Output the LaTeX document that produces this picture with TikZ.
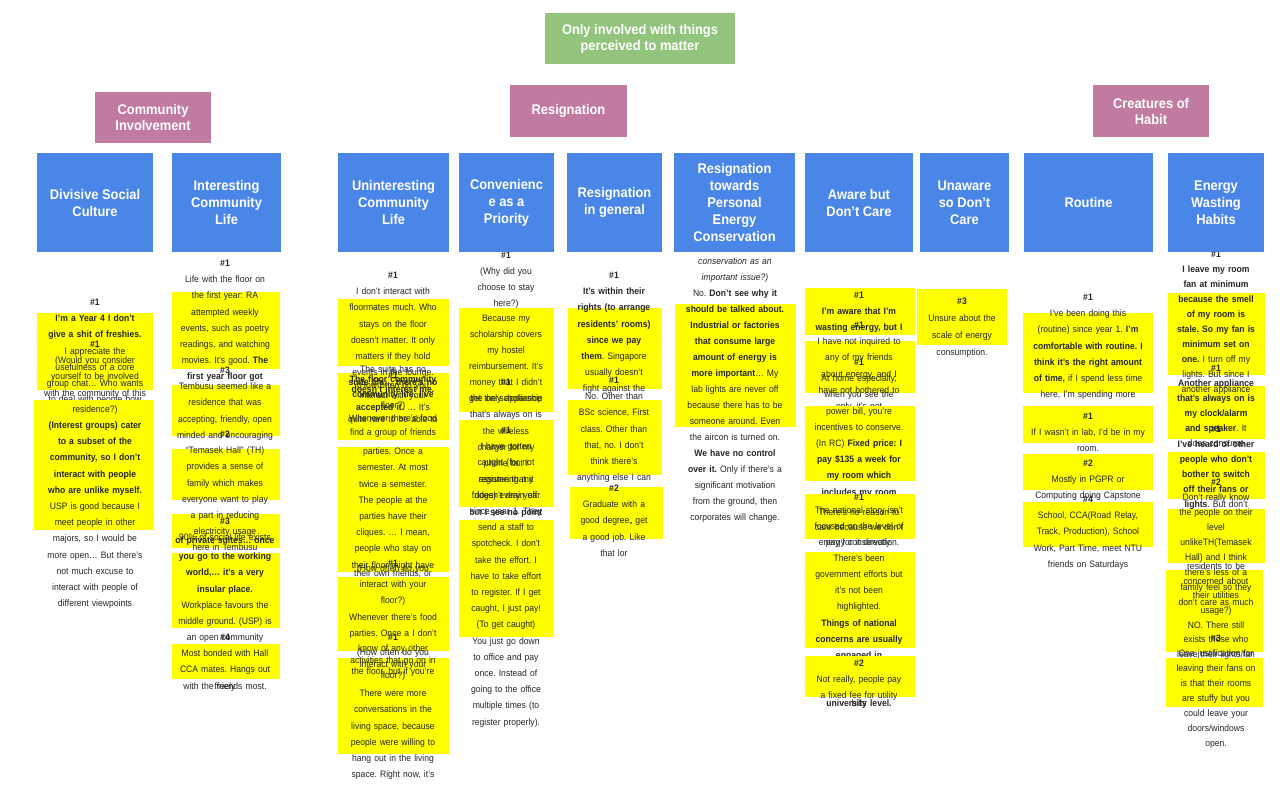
\documentclass[tikz,border=0pt]{standalone}
\usepackage{fontspec}
\setmainfont{Liberation Sans}[FakeStretch=0.92]
\usepackage{tikz}
\usepackage{xcolor}
\definecolor{mapBlue}  {HTML}{4A86E8}
\definecolor{mapPink}  {HTML}{C27BA0}
\definecolor{mapGreen} {HTML}{93C47D}
\definecolor{mapYellow}{HTML}{FFFF00}
\definecolor{mapInk}   {HTML}{262626}
\newcommand\qn[1]{\textbf{\##1}}
\frenchspacing
\tikzset{
  theme/.style = {rectangle, fill=mapGreen, text=white, align=center,
                  inner sep=0pt, font=\fontsize{10.5}{12}\selectfont\bfseries},
  group/.style = {rectangle, fill=mapPink, text=white, align=center,
                  inner sep=0pt, font=\fontsize{10.5}{12}\selectfont\bfseries},
  topic/.style = {rectangle, fill=mapBlue, text=white, align=center,
                  inner sep=0pt, minimum height=74.25pt,
                  font=\fontsize{10.5}{12.75}\selectfont\bfseries},
  sticky/.style= {fill=mapYellow},
  note/.style  = {anchor=base, text width=150pt, align=center, inner sep=0pt,
                  text=mapInk, yshift=-2.55pt, font=\fontsize{7}{12.15}\selectfont},
  lead/.style  = {font=\fontsize{7}{#1}\selectfont},
}

\begin{document}
\begin{tikzpicture}[x=0.75pt, y=-0.75pt]

\fill[white] (0,0) rectangle (1280,800);
\useasboundingbox (0,0) rectangle (1280,800);

% Divisive Social Culture
\fill[sticky] (37,313) rectangle (153,390);
\node[note] (c1a) at (95,302) {\qn1\\\textbf{I’m a Year 4 I don’t}\\\textbf{give a shit of freshies.}\\I appreciate the\\usefulness of a core\\group chat… Who wants\\to deal with people how};
\fill[sticky] (34,400) rectangle (154,530);
\node[note] (c1b) at (95,344) {\qn1\\(Would you consider\\yourself to be involved\\with the community of this\\residence?)\\\textbf{(Interest groups) cater}\\\textbf{to a subset of the}\\\textbf{community, so I don’t}\\\textbf{interact with people}\\\textbf{who are unlike myself.}\\USP is good because I\\meet people in other\\majors, so I would be\\more open… But there’s\\not much excuse to\\interact with people of\\different viewpoints};

% Interesting Community Life
\fill[sticky] (172,292) rectangle (280,369);
\node[note] (c2a) at (225,263) {\qn1\\Life with the floor on\\the first year: RA\\attempted weekly\\events, such as poetry\\readings, and watching\\movies. It’s good. \textbf{The}\\\textbf{first year floor got}};
\fill[sticky] (172,385) rectangle (280,436);
\node[note] (c2b) at (225,370) {\qn3\\Tembusu seemed like a\\residence that was\\accepting, friendly, open\\minded and encouraging};
\fill[sticky] (172,449) rectangle (280,500);
\fill[sticky] (172,514) rectangle (280,548);
\node[note] (c2c) at (225,434) {\qn2\\“Temasek Hall” (TH)\\provides a sense of\\family which makes\\everyone want to play\\a part in reducing\\electricity usage\\here in Tembusu};
\node[note] (c2d) at (225,521) {\qn3\\90\% of social life exists};
\fill[sticky] (172,553) rectangle (280,628);
\node[note] (c2e) at (225,540) {\textbf{of private suites… once}\\\textbf{you go to the working}\\\textbf{world,… it’s a very}\\\textbf{insular place.}\\Workplace favours the\\middle ground. (USP) is\\an open community\\~\\~\\freely};
\fill[sticky] (172,644) rectangle (280,679);
\node[note] (c2f) at (225,637) {\qn4\\Most bonded with Hall\\CCA mates. Hangs out\\with the friends most.};

% Uninteresting Community Life
\fill[sticky] (338,299) rectangle (449,366);
\fill[sticky] (338,373) rectangle (449,440);
\fill[sticky] (338,447) rectangle (449,572);
\fill[sticky] (338,577) rectangle (449,651);
\fill[sticky] (338,658) rectangle (449,754);
\node[note] (c3a) at (393,275) {\qn1\\I don’t interact with\\floormates much. Who\\stays on the floor\\doesn’t matter. It only\\matters if they hold\\events in the lounge.};
\node[note, lead=9.45pt] (c3b) at (393,369) {The suite has no\\\textbf{suite life… there’s no}\\\textbf{community life. I’ve}\\\textbf{accepted it.} … It’s\\quite rare to be able to\\find a group of friends};
\node[note, lead=7.5pt] (c3c) at (393,379) {\textbf{The floor community}\\\textbf{doesn’t interest me.}};
\node[note] (c3d) at (393,375) {\qn1\\[-4.7pt](How often do you\\[-4.7pt]interact with your\\[-4.7pt]floor?)\\[-2pt]Whenever there’s food\\[12.5pt]parties. Once a\\semester. At most\\twice a semester.\\The people at the\\parties have their\\cliques. … I mean,\\people who stay on\\their floor might have\\[-6pt]their own friends, or};
\node[note] (c3e) at (393,563) {\qn1\\[-8.4pt](How often do you\\interact with your\\floor?)\\Whenever there’s food\\parties. Once a I don’t\\[-1pt]know of any other\\[-3.15pt]activities that go on in\\[-3.9pt]the floor, but if you’re};
\node[note] (c3f) at (393,637) {\qn1\\[-0.9pt](How often do you\\[-3pt]interact with your\\[-3.9pt]floor?)\\[1.4pt]There were more\\conversations in the\\living space, because\\people were willing to\\hang out in the living\\space. Right now, it’s};

% Convenience as a Priority
\fill[sticky] (459,308) rectangle (554,412);
\fill[sticky] (459,420) rectangle (554,507);
\fill[sticky] (459,520) rectangle (554,637);
\node[note, lead=11.9pt] (c4a) at (506,255) {\qn1\\(Why did you\\choose to stay\\here?)\\Because my\\scholarship covers\\my hostel\\reimbursement. It’s\\money that I didn’t\\get the scholarship};
\node[note] (c4b) at (506,382) {\qn1\\the only appliance\\that’s always on is\\the wireless\\charger for my\\phone but I\\assume that it\\doesn’t drain off\\but \textbf{I see no point}};
\node[note] (c4c) at (506,430) {\qn1\\I have gotten\\caught (for not\\registering my\\fridge) every year\\since year 1. They\\send a staff to\\spotcheck. I don’t\\take the effort. I\\have to take effort\\to register. If I get\\caught, I just pay!\\(To get caught)\\You just go down\\to office and pay\\once. Instead of\\going to the office\\multiple times (to\\register properly).};

% Resignation in general
\fill[sticky] (568,308) rectangle (662,389);
\fill[sticky] (568,400) rectangle (662,475);
\fill[sticky] (570,487) rectangle (663,539);
\node[note] (c5a) at (614,275) {\qn1\\\textbf{It’s within their}\\\textbf{rights (to arrange}\\\textbf{residents’ rooms)}\\\textbf{since we pay}\\\textbf{them}. Singapore\\usually doesn’t\\fight against the};
\node[note] (c5b) at (614,380) {\qn1\\No. Other than\\BSc science, First\\class. Other than\\that, no. I don’t\\think there’s\\anything else I can};
\node[note] (c5c) at (614,488) {\qn2\\Graduate with a\\good degree,, get\\a good job. Like\\that lor};

% Resignation towards Personal Energy Conservation
\fill[sticky] (675,304) rectangle (796,427);
\node[note, lead=12pt] (c6a) at (735,261) {\textit{conservation as an}\\\textit{important issue?)}\\No. \textbf{Don’t see why it}\\\textbf{should be talked about.}\\\textbf{Industrial or factories}\\\textbf{that consume large}\\\textbf{amount of energy is}\\\textbf{more important}… My\\lab lights are never off\\because there has to be\\someone around. Even\\the aircon is turned on.\\\textbf{We have no control}\\\textbf{over it.} Only if there’s a\\significant motivation\\from the ground, then\\corporates will change.};

% Aware but Don't Care
\fill[sticky] (805,288) rectangle (915,335);
\node[note] (c7a) at (859,295) {\qn1\\\textbf{I’m aware that I’m}\\\textbf{wasting energy, but I}};
\fill[sticky] (805,341) rectangle (915,393);
\node[note] (c7b) at (859,325) {\qn1\\I have not inquired to\\any of my friends\\about energy, and I\\have not bothered to\\only, it’s not};
\fill[sticky] (805,406) rectangle (915,481);
\node[note] (c7c) at (859,362) {\qn1\\At home especially,\\when you see the\\power bill, you’re\\incentives to conserve.\\(In RC) \textbf{Fixed price: I}\\\textbf{pay \$135 a week for}\\\textbf{my room which}\\\textbf{includes my room}};
\fill[sticky] (805,494) rectangle (915,539);
\node[note, lead=11.25pt] (c7d) at (859,497) {\qn1\\There’s no reason to\\care because we don’t\\pay for it directly.};
\fill[sticky] (805,552) rectangle (915,648);
\node[note, lead=12.07pt] (c7e) at (859,510) {The national story isn’t\\focused on the level of\\energy conservation.\\There’s been\\government efforts but\\it’s not been\\highlighted.\\\textbf{Things of national}\\\textbf{concerns are usually}\\\textbf{engaged in}\\~\\~\\\textbf{university level.}};
\fill[sticky] (805,656) rectangle (915,697);
\node[note] (c7f) at (859,663) {\qn2\\Not really, people pay\\a fixed fee for utility\\[-6.5pt]bills};

% Unaware so Don't Care
\fill[sticky] (917,289) rectangle (1007,345);
\node[note, lead=12.7pt] (c8a) at (962,301) {\qn3\\Unsure about the\\scale of energy\\consumption.};

% Routine
\fill[sticky] (1023,313) rectangle (1153,393);
\node[note] (c9a) at (1088,297) {\qn1\\I’ve been doing this\\(routine) since year 1. \textbf{I’m}\\\textbf{comfortable with routine. I}\\\textbf{think it’s the right amount}\\\textbf{of time,} if I spend less time\\here, I’m spending more};
\fill[sticky] (1023,406) rectangle (1153,443);
\node[note] (c9b) at (1088,416) {\qn1\\If I wasn’t in lab, I’d be in my\\room.};
\fill[sticky] (1023,454) rectangle (1153,490);
\node[note] (c9c) at (1088,463) {\qn2\\Mostly in PGPR or\\Computing doing Capstone};
\fill[sticky] (1023,502) rectangle (1153,547);
\node[note] (c9d) at (1088,499) {\qn4\\School, CCA(Road Relay,\\Track, Production), School\\Work, Part Time, meet NTU\\friends on Saturdays};

% Energy Wasting Habits
\fill[sticky] (1168,293) rectangle (1265,375);
\fill[sticky] (1168,386) rectangle (1265,439);
\fill[sticky] (1168,452) rectangle (1265,499);
\fill[sticky] (1168,509) rectangle (1265,563);
\fill[sticky] (1166,570) rectangle (1263,652);
\fill[sticky] (1166,658) rectangle (1263,707);
\node[note, lead=11.25pt] (c10a) at (1216,254) {\qn1\\\textbf{I leave my room}\\\textbf{fan at minimum}\\\textbf{because the smell}\\\textbf{of my room is}\\\textbf{stale. So my fan is}\\\textbf{minimum set on}\\\textbf{one.} I turn off my\\lights. But since I\\another appliance};
\node[note, lead=11.25pt] (c10b) at (1216,368) {\qn1\\\textbf{Another appliance}\\\textbf{that’s always on is}\\\textbf{my clock/alarm}\\\textbf{and speaker}. It\\does consume};
\node[note, lead=11.25pt] (c10c) at (1216,429) {\qn1\\\textbf{I’ve heard of other}\\\textbf{people who don’t}\\\textbf{bother to switch}\\\textbf{off their fans or}\\\textbf{lights}. But don’t};
\node[note, lead=11.25pt] (c10d) at (1216,482) {\qn2\\Don’t really know\\the people on their\\level\\unlikeTH(Temasek\\Hall) and I think\\there’s less of a\\family feel so they\\don’t care as much};
\node[note, lead=11pt] (c10e) at (1216,566) {residents to be\\concerned about\\their utilities\\usage?)\\NO. There still\\exists those who\\leave their lights/fan};
\node[note, lead=11.25pt] (c10f) at (1216,638) {\qn3\\One justification for\\leaving their fans on\\is that their rooms\\are stuffy but you\\could leave your\\doors/windows\\open.};

% headers
\node[theme, minimum width=142.5pt, minimum height=38.25pt] (perceived) at (640,38.5) {Only involved with things\\perceived to matter};

\node[group, minimum width=87pt, minimum height=38.25pt] (community) at (153,117.5) {Community\\Involvement};
\node[group, minimum width=87.75pt, minimum height=39pt] (resignation) at (568.5,111) {Resignation};
\node[group, minimum width=87pt, minimum height=39pt] (habit) at (1151,111) {Creatures of\\Habit};

\node[topic, minimum width=87pt]    (divisive)      at (95,202.5)    {Divisive Social\\Culture};
\node[topic, minimum width=81.75pt] (interesting)   at (226.5,202.5) {Interesting\\Community\\Life};
\node[topic, minimum width=83.25pt] (uninteresting) at (393.5,202.5) {Uninteresting\\Community\\Life};
\node[topic, minimum width=71.25pt] (convenience)   at (506.5,202.5) {Convenienc\\e as a\\Priority};
\node[topic, minimum width=71.25pt] (resgeneral)    at (614.5,202.5) {Resignation\\in general};
\node[topic, minimum width=90.75pt] (restowards)    at (734.5,202.5) {Resignation\\towards\\Personal\\Energy\\Conservation};
\node[topic, minimum width=81pt]    (aware)         at (859,202.5)   {Aware but\\Don’t Care};
\node[topic, minimum width=66.75pt] (unaware)       at (964.5,202.5) {Unaware\\so Don’t\\Care};
\node[topic, minimum width=96.75pt] (routine)       at (1088.5,202.5){Routine};
\node[topic, minimum width=72pt]    (wasting)       at (1216,202.5)  {Energy\\Wasting\\Habits};

\end{tikzpicture}
\end{document}
